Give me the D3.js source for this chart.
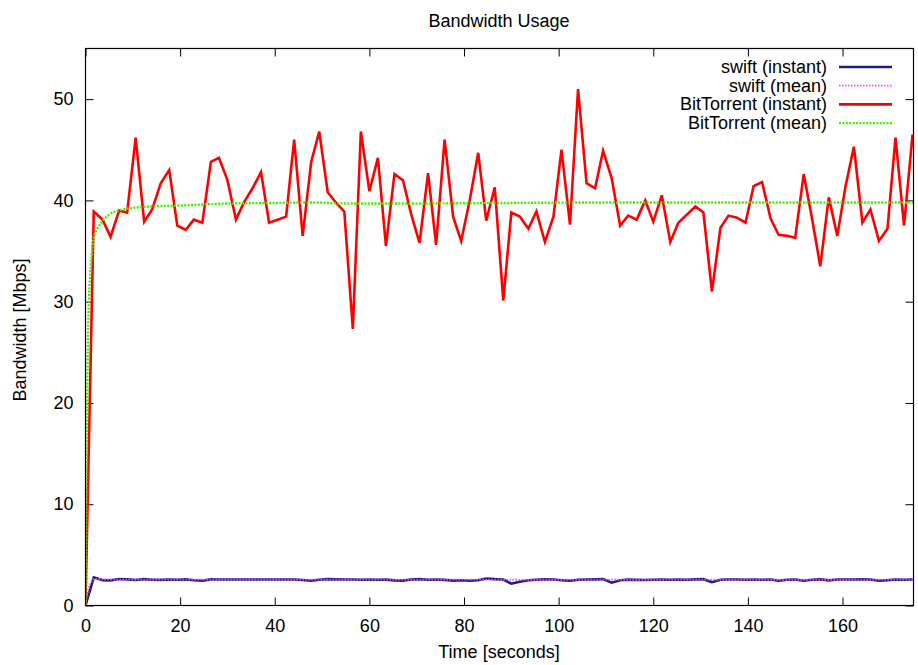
<!DOCTYPE html>
<html>
<head>
<meta charset="utf-8">
<script src="https://cdn.jsdelivr.net/npm/d3@7"></script>
<style>
  html, body { margin: 0; padding: 0; background: #fff; }
  svg { display: block; }
  text { font-family: "Liberation Sans", Arial, Helvetica, sans-serif; fill: #000; }
</style>
</head>
<body>
<svg id="chart" width="918" height="665"></svg>
<script>
// ---- data ----
const times = [0, 1.75, 3.6, 5.3, 7.1, 8.8, 10.6, 12.4, 14.1, 15.9,
  17.7, 19.4, 21.2, 22.9, 24.7, 26.5, 28.2, 30.0, 31.8, 33.5,
  35.3, 37.1, 38.8, 40.6, 42.4, 44.1, 45.9, 47.7, 49.4, 51.2,
  52.9, 54.7, 56.5, 58.2, 60.0, 61.8, 63.5, 65.3, 67.1, 68.8,
  70.6, 72.4, 74.1, 75.9, 77.7, 79.4, 81.2, 83.0, 84.7, 86.5,
  88.3, 90.0, 91.8, 93.6, 95.3, 97.1, 98.9, 100.6, 102.4, 104.1,
  105.9, 107.7, 109.4, 111.2, 113.0, 114.7, 116.5, 118.3, 120.0, 121.8,
  123.6, 125.3, 127.1, 128.9, 130.6, 132.4, 134.2, 135.9, 137.7, 139.5,
  141.2, 143.0, 144.8, 146.5, 148.3, 150.0, 151.8, 153.6, 155.3, 157.1,
  158.9, 160.6, 162.4, 164.2, 165.9, 167.7, 169.5, 171.2, 173.0, 174.8];

const btInstant = [0, 38.9, 38.1, 36.4, 39.0, 38.8, 46.2, 37.9, 39.1, 41.7,
  43.0, 37.5, 37.1, 38.1, 37.8, 43.8, 44.2, 42.0, 38.1, 39.8,
  41.2, 42.8, 37.8, 38.1, 38.4, 46.0, 36.5, 43.8, 46.8, 40.8,
  39.8, 38.9, 27.3, 46.8, 40.9, 44.2, 35.5, 42.6, 42.0, 38.7,
  35.8, 42.7, 35.6, 46.0, 38.4, 36.0, 40.0, 44.7, 38.0, 41.3,
  30.1, 38.8, 38.4, 37.2, 38.9, 35.9, 38.4, 45.0, 37.6, 51.0,
  41.7, 41.2, 44.9, 42.2, 37.5, 38.5, 38.1, 40.0, 37.9, 40.5,
  35.9, 37.8, 38.6, 39.4, 38.8, 31.0, 37.3, 38.5, 38.3, 37.8,
  41.4, 41.8, 38.2, 36.6, 36.5, 36.3, 42.6, 38.1, 33.5, 40.3,
  36.5, 41.3, 45.3, 37.8, 39.1, 36.0, 37.2, 46.2, 37.5, 46.5];

const swiftInstant = [0, 2.78, 2.5, 2.48, 2.62, 2.58, 2.52, 2.6, 2.55, 2.53,
  2.56, 2.55, 2.58, 2.5, 2.44, 2.58, 2.57, 2.56, 2.56, 2.57,
  2.56, 2.56, 2.57, 2.56, 2.57, 2.56, 2.52, 2.44, 2.55, 2.6,
  2.58, 2.56, 2.56, 2.55, 2.57, 2.54, 2.55, 2.48, 2.46, 2.57,
  2.6, 2.55, 2.56, 2.53, 2.46, 2.5, 2.45, 2.5, 2.66, 2.6,
  2.56, 2.15, 2.35, 2.5, 2.55, 2.58, 2.56, 2.5, 2.45, 2.55,
  2.57, 2.58, 2.6, 2.25, 2.5, 2.55, 2.53, 2.52, 2.55, 2.56,
  2.55, 2.57, 2.55, 2.58, 2.6, 2.3, 2.55, 2.57, 2.56, 2.55,
  2.57, 2.55, 2.56, 2.45, 2.55, 2.56, 2.45, 2.55, 2.58, 2.48,
  2.56, 2.57, 2.56, 2.58, 2.56, 2.45, 2.5, 2.56, 2.55, 2.56];

const btMeanT = [0, 0.2, 0.4, 0.6, 0.9, 1.3, 1.75, 2.5, 3.5, 5, 7, 9, 12, 16, 20, 25, 30, 40, 48, 55, 70, 90, 110, 130, 150, 175];
const btMeanV = [0, 12, 22, 28, 32, 34.5, 36.3, 37.2, 37.9, 38.6, 39.0, 39.2, 39.35, 39.45, 39.5, 39.6, 39.7, 39.75, 39.8, 39.7, 39.7, 39.75, 39.8, 39.8, 39.8, 39.8];

const swMeanT = [0, 0.6, 1.2, 1.75, 3, 5, 10, 20, 40, 60, 88, 92, 110, 113, 132, 135, 175];
const swMeanV = [0, 1.6, 2.3, 2.62, 2.6, 2.57, 2.56, 2.55, 2.55, 2.55, 2.56, 2.54, 2.55, 2.54, 2.55, 2.54, 2.55];

const xTicks = [0, 20, 40, 60, 80, 100, 120, 140, 160];
const yTicks = [0, 10, 20, 30, 40, 50];

const seriesNames = ["swift (instant)", "swift (mean)", "BitTorrent (instant)", "BitTorrent (mean)"];
const seriesColors = ["#1e1e80", "#ff40ff", "#ff0000", "#44ee00"];

// ---- layout ----
const svg = d3.select("#chart");
const pLeft = 85.5, pRight = 913.5, pTop = 48.5, pBottom = 605.5;
const FS = "18px";

const x = d3.scaleLinear().domain([0, 175]).range([pLeft, pRight]);
const y = d3.scaleLinear().domain([0, 55]).range([pBottom, pTop]);

svg.append("defs").append("clipPath").attr("id", "clip")
  .append("rect").attr("x", pLeft).attr("y", pTop).attr("width", pRight - pLeft).attr("height", pBottom - pTop);

// ticks (inside, mirrored)
const tl = 8;
const axB = svg.append("g").attr("transform", `translate(0,${pBottom})`)
  .call(d3.axisBottom(x).tickValues(xTicks).tickSizeInner(-tl).tickSizeOuter(0).tickPadding(14));
const axT = svg.append("g").attr("transform", `translate(0,${pTop})`)
  .call(d3.axisTop(x).tickValues(xTicks).tickSizeInner(-tl).tickSizeOuter(0).tickFormat(""));
const axL = svg.append("g").attr("transform", `translate(${pLeft},0)`)
  .call(d3.axisLeft(y).tickValues(yTicks).tickSizeInner(-tl).tickSizeOuter(0).tickPadding(12));
const axR = svg.append("g").attr("transform", `translate(${pRight},0)`)
  .call(d3.axisRight(y).tickValues(yTicks).tickSizeInner(-tl).tickSizeOuter(0).tickFormat(""));
[axB, axT, axL, axR].forEach(g => {
  g.select(".domain").remove();
  g.selectAll(".tick line").attr("stroke", "#000").attr("stroke-width", 1);
  g.selectAll(".tick text").style("font-size", FS).style("font-family", "'Liberation Sans', Arial, sans-serif");
});

// lines
const lineGen = d3.line().x(d => x(d[0])).y(d => y(d[1]));
const smoothGen = d3.line().curve(d3.curveMonotoneX).x(d => x(d[0])).y(d => y(d[1]));
const plot = svg.append("g").attr("clip-path", "url(#clip)");

const swiftData = times.map((t, i) => [t, swiftInstant[i]]);
const swMeanData = swMeanT.map((t, i) => [t, swMeanV[i]]);
const btData = times.map((t, i) => [t, btInstant[i]]);
const btMeanData = btMeanT.map((t, i) => [t, btMeanV[i]]);

plot.append("path").datum(swiftData).attr("d", lineGen)
  .attr("fill", "none").attr("stroke", seriesColors[0]).attr("stroke-width", 2.6).attr("stroke-linejoin", "miter");
plot.append("path").datum(swMeanData).attr("d", smoothGen)
  .attr("fill", "none").attr("stroke", seriesColors[1]).attr("stroke-width", 1.8).attr("stroke-dasharray", "1.5,1.5");
plot.append("path").datum(btData).attr("d", lineGen)
  .attr("fill", "none").attr("stroke", seriesColors[2]).attr("stroke-width", 2.6).attr("stroke-linejoin", "miter");
plot.append("path").datum(btMeanData).attr("d", smoothGen)
  .attr("fill", "none").attr("stroke", seriesColors[3]).attr("stroke-width", 2.4).attr("stroke-dasharray", "2,1.4");

// frame
svg.append("rect").attr("x", pLeft).attr("y", pTop).attr("width", pRight - pLeft).attr("height", pBottom - pTop)
  .attr("fill", "none").attr("stroke", "#000").attr("stroke-width", 1.2);

// legend
const legY0 = 67, legDy = 18.7;
const leg = svg.append("g");
seriesNames.forEach((name, i) => {
  const yy = legY0 + i * legDy;
  leg.append("text").attr("x", 827).attr("y", yy).attr("text-anchor", "end")
    .attr("dominant-baseline", "central").style("font-size", FS).text(name);
  const ln = leg.append("line").attr("x1", 839).attr("x2", 892).attr("y1", yy).attr("y2", yy)
    .attr("stroke", seriesColors[i]);
  if (i === 0 || i === 2) ln.attr("stroke-width", 2.6);
  else ln.attr("stroke-width", i === 1 ? 1.8 : 2.4).attr("stroke-dasharray", i === 1 ? "1.5,1.5" : "2,1.4");
});

// titles
svg.append("text").attr("x", 499).attr("y", 21).attr("text-anchor", "middle")
  .attr("dominant-baseline", "central").style("font-size", FS).text("Bandwidth Usage");
svg.append("text").attr("x", 499).attr("y", 652).attr("text-anchor", "middle")
  .attr("dominant-baseline", "central").style("font-size", FS).text("Time [seconds]");
svg.append("text").attr("transform", "translate(20,330) rotate(-90)").attr("text-anchor", "middle")
  .attr("dominant-baseline", "central").style("font-size", FS).text("Bandwidth [Mbps]");
</script>
</body>
</html>
